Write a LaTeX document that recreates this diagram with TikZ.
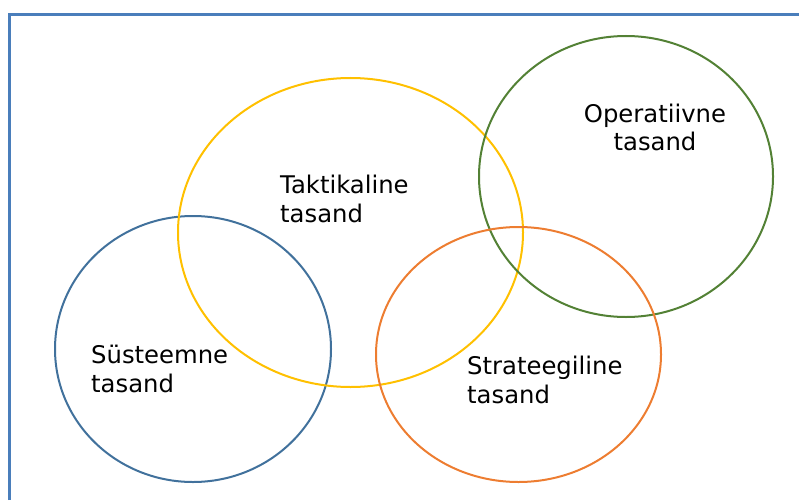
\documentclass[tikz,border=0pt]{standalone}
\usepackage{fontspec}
\setmainfont{DejaVu Sans}
\usetikzlibrary{shapes.geometric}
\definecolor{frameblue}{RGB}{74,126,187}
\definecolor{ringblue}{RGB}{65,113,156}
\definecolor{ringyellow}{RGB}{255,192,0}
\definecolor{ringgreen}{RGB}{83,129,53}
\definecolor{ringorange}{RGB}{237,125,49}

\begin{document}
\begin{tikzpicture}[x=1pt, y=-1pt,
    ring/.style={ellipse, line width=2pt, inner sep=0pt},
    lvl/.style={inner sep=0pt, font=\fontsize{24.3}{28.5}\selectfont}]
    \useasboundingbox (0,0) rectangle (799,500);

    % frame, cut off at the right and bottom
    \coordinate (fr_bl) at (9.5,500);
    \coordinate (fr_tl) at (9.5,14.5);
    \coordinate (fr_tr) at (799,14.5);
    \draw[frameblue, line width=3pt] (fr_bl) -- (fr_tl) -- (fr_tr);

    \node[ring, draw=ringblue,   minimum width=276pt, minimum height=266pt] (sys)  at (193,349)   {};
    \node[ring, draw=ringyellow, minimum width=345pt, minimum height=309pt] (takt) at (350.5,232.5) {};
    \node[ring, draw=ringgreen,  minimum width=294pt, minimum height=281pt] (oper) at (626,176.5) {};
    \node[ring, draw=ringorange, minimum width=285pt, minimum height=255pt] (str)  at (518.5,354.5) {};

    \node[lvl, anchor=west, align=left]  (takt_txt) at (280,199)   {Taktikaline\\tasand};
    \node[lvl, align=center]             (oper_txt) at (655,127.5) {Operatiivne\\tasand};
    \node[lvl, anchor=west, align=left]  (sys_txt)  at (91,369)    {Süsteemne\\tasand};
    \node[lvl, anchor=west, align=left]  (str_txt)  at (467,380)   {Strateegiline\\tasand};
\end{tikzpicture}
\end{document}
